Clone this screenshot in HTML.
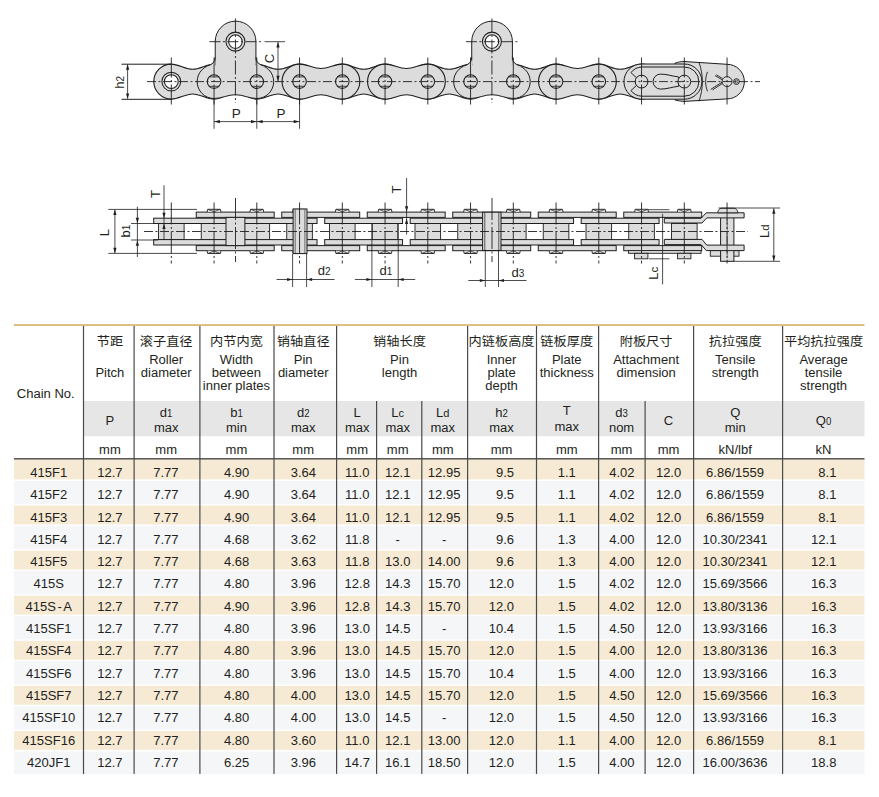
<!DOCTYPE html>
<html><head><meta charset="utf-8"><title>415 chain</title>
<style>
html,body{margin:0;padding:0;background:#fff;}
body{width:879px;height:797px;overflow:hidden;}
svg{display:block;font-family:"Liberation Sans","Noto Sans CJK SC",sans-serif;fill:#231f20;}
.cjk{font-family:"Liberation Sans","Noto Sans CJK SC",sans-serif;}
</style></head><body>
<svg width="879" height="797" viewBox="0 0 879 797">
<g id="drawing">
<path d="M675,63.2 C678,62 681,61.6 684,61.5 L727.05,64.30 A17.3,17.3 0 0 1 727.05,98.90 L684,101.4 C681,101.3 678,100.8 675,100 Z" fill="#dcdcdc" stroke="#1e1e1e" stroke-width="1.0"/>
<path d="M171.30,64.10 C178.80,64.10 185.18,69.20 192.68,69.20 C200.18,69.20 206.55,64.10 214.05,64.10 A17.5,17.5 0 0 1 214.05,99.10 C206.55,99.10 200.18,94.00 192.68,94.00 C185.18,94.00 178.80,99.10 171.30,99.10 A17.5,17.5 0 0 1 171.30,64.10 Z" fill="#dcdcdc" stroke="#1e1e1e" stroke-width="1.1"/>
<path d="M256.80,64.10 C264.30,64.10 270.68,69.20 278.18,69.20 C285.68,69.20 292.05,64.10 299.55,64.10 A17.5,17.5 0 0 1 299.55,99.10 C292.05,99.10 285.68,94.00 278.18,94.00 C270.68,94.00 264.30,99.10 256.80,99.10 A17.5,17.5 0 0 1 256.80,64.10 Z" fill="#dcdcdc" stroke="#1e1e1e" stroke-width="1.1"/>
<path d="M342.30,64.10 C349.80,64.10 356.18,69.20 363.68,69.20 C371.18,69.20 377.55,64.10 385.05,64.10 A17.5,17.5 0 0 1 385.05,99.10 C377.55,99.10 371.18,94.00 363.68,94.00 C356.18,94.00 349.80,99.10 342.30,99.10 A17.5,17.5 0 0 1 342.30,64.10 Z" fill="#dcdcdc" stroke="#1e1e1e" stroke-width="1.1"/>
<path d="M427.80,64.10 C435.30,64.10 441.68,69.20 449.18,69.20 C456.68,69.20 463.05,64.10 470.55,64.10 A17.5,17.5 0 0 1 470.55,99.10 C463.05,99.10 456.68,94.00 449.18,94.00 C441.68,94.00 435.30,99.10 427.80,99.10 A17.5,17.5 0 0 1 427.80,64.10 Z" fill="#dcdcdc" stroke="#1e1e1e" stroke-width="1.1"/>
<path d="M513.30,64.10 C520.80,64.10 527.17,69.20 534.67,69.20 C542.17,69.20 548.55,64.10 556.05,64.10 A17.5,17.5 0 0 1 556.05,99.10 C548.55,99.10 542.17,94.00 534.67,94.00 C527.17,94.00 520.80,99.10 513.30,99.10 A17.5,17.5 0 0 1 513.30,64.10 Z" fill="#dcdcdc" stroke="#1e1e1e" stroke-width="1.1"/>
<path d="M598.80,64.10 C606.30,64.10 612.67,69.20 620.17,69.20 C627.67,69.20 634.05,64.10 641.55,64.10 A17.5,17.5 0 0 1 641.55,99.10 C634.05,99.10 627.67,94.00 620.17,94.00 C612.67,94.00 606.30,99.10 598.80,99.10 A17.5,17.5 0 0 1 598.80,64.10 Z" fill="#dcdcdc" stroke="#1e1e1e" stroke-width="1.1"/>
<path d="M215.23,71.60 L215.23,41.50 A20.35,20.35 0 0 1 255.93,41.50 L255.93,71.60 Z" fill="#dcdcdc" stroke="#1e1e1e" stroke-width="1.0"/>
<path d="M214.05,64.70 C221.55,64.70 227.93,68.50 235.43,68.50 C242.93,68.50 249.30,64.70 256.80,64.70 A16.9,16.9 0 0 1 256.80,98.50 C249.30,98.50 242.93,94.70 235.43,94.70 C227.93,94.70 221.55,98.50 214.05,98.50 A16.9,16.9 0 0 1 214.05,64.70 Z" fill="#dcdcdc" stroke="#1e1e1e" stroke-width="1.0"/>
<rect x="215.83" y="60.60" width="39.50" height="10" fill="#dcdcdc"/>
<path d="M215.23,57.5 Q215.23,64.8 204.93,66.6 L215.73,70 Z" fill="#dcdcdc" stroke="none" stroke-width="1.0"/>
<path d="M215.23,57.5 Q215.23,64.8 204.93,66.6" fill="none" stroke="#1e1e1e" stroke-width="1.0"/>
<path d="M255.93,57.5 Q255.93,64.8 266.23,66.6 L255.43,70 Z" fill="#dcdcdc" stroke="none" stroke-width="1.0"/>
<path d="M255.93,57.5 Q255.93,64.8 266.23,66.6" fill="none" stroke="#1e1e1e" stroke-width="1.0"/>
<path d="M299.55,64.10 C307.05,64.10 313.43,68.50 320.93,68.50 C328.43,68.50 334.80,64.10 342.30,64.10 A17.5,17.5 0 0 1 342.30,99.10 C334.80,99.10 328.43,94.70 320.93,94.70 C313.43,94.70 307.05,99.10 299.55,99.10 A17.5,17.5 0 0 1 299.55,64.10 Z" fill="#dcdcdc" stroke="#1e1e1e" stroke-width="1.1"/>
<path d="M385.05,64.10 C392.55,64.10 398.93,68.50 406.43,68.50 C413.93,68.50 420.30,64.10 427.80,64.10 A17.5,17.5 0 0 1 427.80,99.10 C420.30,99.10 413.93,94.70 406.43,94.70 C398.93,94.70 392.55,99.10 385.05,99.10 A17.5,17.5 0 0 1 385.05,64.10 Z" fill="#dcdcdc" stroke="#1e1e1e" stroke-width="1.1"/>
<path d="M471.72,71.60 L471.72,41.50 A20.35,20.35 0 0 1 512.42,41.50 L512.42,71.60 Z" fill="#dcdcdc" stroke="#1e1e1e" stroke-width="1.0"/>
<path d="M470.55,64.70 C478.05,64.70 484.42,68.50 491.92,68.50 C499.42,68.50 505.80,64.70 513.30,64.70 A16.9,16.9 0 0 1 513.30,98.50 C505.80,98.50 499.42,94.70 491.92,94.70 C484.42,94.70 478.05,98.50 470.55,98.50 A16.9,16.9 0 0 1 470.55,64.70 Z" fill="#dcdcdc" stroke="#1e1e1e" stroke-width="1.0"/>
<rect x="472.32" y="60.60" width="39.50" height="10" fill="#dcdcdc"/>
<path d="M471.72,57.5 Q471.72,64.8 461.42,66.6 L472.22,70 Z" fill="#dcdcdc" stroke="none" stroke-width="1.0"/>
<path d="M471.72,57.5 Q471.72,64.8 461.42,66.6" fill="none" stroke="#1e1e1e" stroke-width="1.0"/>
<path d="M512.42,57.5 Q512.42,64.8 522.72,66.6 L511.92,70 Z" fill="#dcdcdc" stroke="none" stroke-width="1.0"/>
<path d="M512.42,57.5 Q512.42,64.8 522.72,66.6" fill="none" stroke="#1e1e1e" stroke-width="1.0"/>
<path d="M556.05,64.10 C563.55,64.10 569.92,68.50 577.42,68.50 C584.92,68.50 591.30,64.10 598.80,64.10 A17.5,17.5 0 0 1 598.80,99.10 C591.30,99.10 584.92,94.70 577.42,94.70 C569.92,94.70 563.55,99.10 556.05,99.10 A17.5,17.5 0 0 1 556.05,64.10 Z" fill="#dcdcdc" stroke="#1e1e1e" stroke-width="1.1"/>
<path d="M641.55,64.00 L684.30,64.00 A17.6,17.6 0 0 1 684.30,99.20 L641.55,99.20 A17.6,17.6 0 0 1 641.55,64.00 Z" fill="#dcdcdc" stroke="#1e1e1e" stroke-width="1.0"/>
<path d="M630.95,72.60 A14.6,14.6 0 0 1 641.55,67.00 L684.30,67.00 A14.6,14.6 0 0 1 684.30,96.20 L641.55,96.20 A14.6,14.6 0 0 1 630.95,90.60" fill="none" stroke="#1e1e1e" stroke-width="1.0"/>
<path d="M630.95,72.60 L636.35,77.70 M630.95,90.60 L636.35,85.50" fill="none" stroke="#1e1e1e" stroke-width="1.0"/>
<path d="M660.55,74.10 C666.55,74.10 671.55,76.00 678.80,77.00 L678.80,86.20 C671.55,87.20 666.55,89.10 660.55,89.10 A7.5,7.5 0 0 1 660.55,74.10 Z" fill="#dcdcdc" stroke="#1e1e1e" stroke-width="1.0"/>
<path d="M699,62.4 C703.5,75 703.5,88 699,101.3" fill="none" stroke="#1e1e1e" stroke-width="0.9"/>
<circle cx="171.30" cy="81.60" r="9.40" fill="#dcdcdc" stroke="#1e1e1e" stroke-width="1.05"/>
<circle cx="171.30" cy="81.60" r="6.90" fill="#ffffff" stroke="#1e1e1e" stroke-width="1.05"/>
<circle cx="214.05" cy="81.60" r="6.80" fill="#dcdcdc" stroke="#1e1e1e" stroke-width="1.05"/>
<line x1="209.15" y1="76.90" x2="218.95" y2="76.90" stroke="#1e1e1e" stroke-width="0.8"/>
<line x1="209.15" y1="86.30" x2="218.95" y2="86.30" stroke="#1e1e1e" stroke-width="0.8"/>
<circle cx="256.80" cy="81.60" r="6.80" fill="#dcdcdc" stroke="#1e1e1e" stroke-width="1.05"/>
<line x1="251.90" y1="76.90" x2="261.70" y2="76.90" stroke="#1e1e1e" stroke-width="0.8"/>
<line x1="251.90" y1="86.30" x2="261.70" y2="86.30" stroke="#1e1e1e" stroke-width="0.8"/>
<circle cx="299.55" cy="81.60" r="6.80" fill="#dcdcdc" stroke="#1e1e1e" stroke-width="1.05"/>
<line x1="294.65" y1="76.90" x2="304.45" y2="76.90" stroke="#1e1e1e" stroke-width="0.8"/>
<line x1="294.65" y1="86.30" x2="304.45" y2="86.30" stroke="#1e1e1e" stroke-width="0.8"/>
<circle cx="342.30" cy="81.60" r="6.80" fill="#dcdcdc" stroke="#1e1e1e" stroke-width="1.05"/>
<line x1="337.40" y1="76.90" x2="347.20" y2="76.90" stroke="#1e1e1e" stroke-width="0.8"/>
<line x1="337.40" y1="86.30" x2="347.20" y2="86.30" stroke="#1e1e1e" stroke-width="0.8"/>
<circle cx="385.05" cy="81.60" r="6.80" fill="#dcdcdc" stroke="#1e1e1e" stroke-width="1.05"/>
<line x1="380.15" y1="76.90" x2="389.95" y2="76.90" stroke="#1e1e1e" stroke-width="0.8"/>
<line x1="380.15" y1="86.30" x2="389.95" y2="86.30" stroke="#1e1e1e" stroke-width="0.8"/>
<circle cx="427.80" cy="81.60" r="6.80" fill="#dcdcdc" stroke="#1e1e1e" stroke-width="1.05"/>
<line x1="422.90" y1="76.90" x2="432.70" y2="76.90" stroke="#1e1e1e" stroke-width="0.8"/>
<line x1="422.90" y1="86.30" x2="432.70" y2="86.30" stroke="#1e1e1e" stroke-width="0.8"/>
<circle cx="470.55" cy="81.60" r="6.80" fill="#dcdcdc" stroke="#1e1e1e" stroke-width="1.05"/>
<line x1="465.65" y1="76.90" x2="475.45" y2="76.90" stroke="#1e1e1e" stroke-width="0.8"/>
<line x1="465.65" y1="86.30" x2="475.45" y2="86.30" stroke="#1e1e1e" stroke-width="0.8"/>
<circle cx="513.30" cy="81.60" r="6.80" fill="#dcdcdc" stroke="#1e1e1e" stroke-width="1.05"/>
<line x1="508.40" y1="76.90" x2="518.20" y2="76.90" stroke="#1e1e1e" stroke-width="0.8"/>
<line x1="508.40" y1="86.30" x2="518.20" y2="86.30" stroke="#1e1e1e" stroke-width="0.8"/>
<circle cx="556.05" cy="81.60" r="6.80" fill="#dcdcdc" stroke="#1e1e1e" stroke-width="1.05"/>
<line x1="551.15" y1="76.90" x2="560.95" y2="76.90" stroke="#1e1e1e" stroke-width="0.8"/>
<line x1="551.15" y1="86.30" x2="560.95" y2="86.30" stroke="#1e1e1e" stroke-width="0.8"/>
<circle cx="598.80" cy="81.60" r="6.80" fill="#dcdcdc" stroke="#1e1e1e" stroke-width="1.05"/>
<line x1="593.90" y1="76.90" x2="603.70" y2="76.90" stroke="#1e1e1e" stroke-width="0.8"/>
<line x1="593.90" y1="86.30" x2="603.70" y2="86.30" stroke="#1e1e1e" stroke-width="0.8"/>
<circle cx="641.55" cy="81.60" r="6.40" fill="#dcdcdc" stroke="#1e1e1e" stroke-width="1.0"/>
<circle cx="684.30" cy="81.60" r="6.40" fill="#dcdcdc" stroke="#1e1e1e" stroke-width="1.0"/>
<circle cx="727.05" cy="81.60" r="5.00" fill="#dcdcdc" stroke="#1e1e1e" stroke-width="0.9"/>
<circle cx="736.45" cy="81.60" r="2.90" fill="#dcdcdc" stroke="#1e1e1e" stroke-width="0.9"/>
<circle cx="736.45" cy="81.60" r="1.60" fill="none" stroke="#1e1e1e" stroke-width="0.7"/>
<path d="M710.7,89.4 L722.6,81.9 M715,75.6 L722.6,80 M712.5,89.9 L722.6,83.4 M716.3,74.7 L722.6,78.6" fill="none" stroke="#1e1e1e" stroke-width="0.9"/>
<path d="M707.5,71.9 C705,78 705,85 707.5,91.3" fill="none" stroke="#1e1e1e" stroke-width="0.9"/>
<circle cx="235.43" cy="41.60" r="9.50" fill="#dcdcdc" stroke="#1e1e1e" stroke-width="1.05"/>
<circle cx="235.43" cy="41.60" r="6.80" fill="#ffffff" stroke="#1e1e1e" stroke-width="1.05"/>
<circle cx="491.92" cy="41.60" r="9.50" fill="#dcdcdc" stroke="#1e1e1e" stroke-width="1.05"/>
<circle cx="491.92" cy="41.60" r="6.80" fill="#ffffff" stroke="#1e1e1e" stroke-width="1.05"/>
<line x1="147.00" y1="81.60" x2="760.00" y2="81.60" stroke="#1e1e1e" stroke-width="0.9" stroke-dasharray="9,2.5,2,2.5"/>
<line x1="171.30" y1="57.50" x2="171.30" y2="106.50" stroke="#1e1e1e" stroke-width="0.9" stroke-dasharray="20,2.5,2,2.5"/>
<line x1="214.05" y1="57.50" x2="214.05" y2="106.50" stroke="#1e1e1e" stroke-width="0.9" stroke-dasharray="20,2.5,2,2.5"/>
<line x1="256.80" y1="57.50" x2="256.80" y2="106.50" stroke="#1e1e1e" stroke-width="0.9" stroke-dasharray="20,2.5,2,2.5"/>
<line x1="299.55" y1="57.50" x2="299.55" y2="106.50" stroke="#1e1e1e" stroke-width="0.9" stroke-dasharray="20,2.5,2,2.5"/>
<line x1="342.30" y1="57.50" x2="342.30" y2="106.50" stroke="#1e1e1e" stroke-width="0.9" stroke-dasharray="20,2.5,2,2.5"/>
<line x1="385.05" y1="57.50" x2="385.05" y2="106.50" stroke="#1e1e1e" stroke-width="0.9" stroke-dasharray="20,2.5,2,2.5"/>
<line x1="427.80" y1="57.50" x2="427.80" y2="106.50" stroke="#1e1e1e" stroke-width="0.9" stroke-dasharray="20,2.5,2,2.5"/>
<line x1="470.55" y1="57.50" x2="470.55" y2="106.50" stroke="#1e1e1e" stroke-width="0.9" stroke-dasharray="20,2.5,2,2.5"/>
<line x1="513.30" y1="57.50" x2="513.30" y2="106.50" stroke="#1e1e1e" stroke-width="0.9" stroke-dasharray="20,2.5,2,2.5"/>
<line x1="556.05" y1="57.50" x2="556.05" y2="106.50" stroke="#1e1e1e" stroke-width="0.9" stroke-dasharray="20,2.5,2,2.5"/>
<line x1="598.80" y1="57.50" x2="598.80" y2="106.50" stroke="#1e1e1e" stroke-width="0.9" stroke-dasharray="20,2.5,2,2.5"/>
<line x1="641.55" y1="57.50" x2="641.55" y2="106.50" stroke="#1e1e1e" stroke-width="0.9" stroke-dasharray="20,2.5,2,2.5"/>
<line x1="684.30" y1="57.50" x2="684.30" y2="106.50" stroke="#1e1e1e" stroke-width="0.9" stroke-dasharray="20,2.5,2,2.5"/>
<line x1="727.05" y1="57.50" x2="727.05" y2="106.50" stroke="#1e1e1e" stroke-width="0.9" stroke-dasharray="20,2.5,2,2.5"/>
<line x1="235.43" y1="18.50" x2="235.43" y2="103.00" stroke="#1e1e1e" stroke-width="0.9" stroke-dasharray="14,2.5,2,2.5"/>
<line x1="209.43" y1="41.70" x2="261.43" y2="41.70" stroke="#1e1e1e" stroke-width="0.9" stroke-dasharray="11,2.5,2,2.5"/>
<line x1="491.92" y1="18.50" x2="491.92" y2="103.00" stroke="#1e1e1e" stroke-width="0.9" stroke-dasharray="14,2.5,2,2.5"/>
<line x1="465.92" y1="41.70" x2="517.92" y2="41.70" stroke="#1e1e1e" stroke-width="0.9" stroke-dasharray="11,2.5,2,2.5"/>
<line x1="121.50" y1="64.20" x2="171.00" y2="64.20" stroke="#1e1e1e" stroke-width="1.0"/>
<line x1="121.50" y1="99.30" x2="171.00" y2="99.30" stroke="#1e1e1e" stroke-width="1.0"/>
<line x1="127.60" y1="64.60" x2="127.60" y2="98.60" stroke="#1e1e1e" stroke-width="0.8"/>
<path d="M127.60,64.30 L129.20,69.80 L126.00,69.80 Z" fill="#1e1e1e"/>
<path d="M127.60,98.90 L126.00,93.40 L129.20,93.40 Z" fill="#1e1e1e"/>
<text x="124.00" y="82.30" font-size="13" text-anchor="middle" fill="#231f20" transform="rotate(-90 124.00 82.30)">h<tspan font-size="10">2</tspan></text>
<line x1="214.05" y1="100.00" x2="214.05" y2="128.80" stroke="#1e1e1e" stroke-width="0.8"/>
<line x1="256.80" y1="100.00" x2="256.80" y2="128.80" stroke="#1e1e1e" stroke-width="0.8"/>
<line x1="299.55" y1="100.00" x2="299.55" y2="128.80" stroke="#1e1e1e" stroke-width="0.8"/>
<line x1="214.05" y1="121.60" x2="299.55" y2="121.60" stroke="#1e1e1e" stroke-width="0.8"/>
<path d="M214.35,121.60 L219.85,120.00 L219.85,123.20 Z" fill="#1e1e1e"/>
<path d="M256.50,121.60 L251.00,123.20 L251.00,120.00 Z" fill="#1e1e1e"/>
<path d="M257.10,121.60 L262.60,120.00 L262.60,123.20 Z" fill="#1e1e1e"/>
<path d="M299.25,121.60 L293.75,123.20 L293.75,120.00 Z" fill="#1e1e1e"/>
<text x="236.33" y="117.80" font-size="13.5" text-anchor="middle" fill="#231f20">P</text>
<text x="280.98" y="117.80" font-size="13.5" text-anchor="middle" fill="#231f20">P</text>
<line x1="264.50" y1="41.70" x2="285.00" y2="41.70" stroke="#1e1e1e" stroke-width="0.8"/>
<line x1="278.00" y1="42.00" x2="278.00" y2="81.30" stroke="#1e1e1e" stroke-width="0.8"/>
<path d="M278.00,41.90 L279.60,47.40 L276.40,47.40 Z" fill="#1e1e1e"/>
<path d="M278.00,81.30 L276.40,75.80 L279.60,75.80 Z" fill="#1e1e1e"/>
<text x="274.30" y="58.60" font-size="13" text-anchor="middle" fill="#231f20" transform="rotate(-90 274.30 58.60)">C</text>
<rect x="158.50" y="223.50" width="25.60" height="16.10" fill="#dcdcdc" stroke="#1e1e1e" stroke-width="0.9"/>
<rect x="201.25" y="223.50" width="25.60" height="16.10" fill="#dcdcdc" stroke="#1e1e1e" stroke-width="0.9"/>
<rect x="244.00" y="223.50" width="25.60" height="16.10" fill="#dcdcdc" stroke="#1e1e1e" stroke-width="0.9"/>
<rect x="286.75" y="223.50" width="25.60" height="16.10" fill="#dcdcdc" stroke="#1e1e1e" stroke-width="0.9"/>
<rect x="329.50" y="223.50" width="25.60" height="16.10" fill="#dcdcdc" stroke="#1e1e1e" stroke-width="0.9"/>
<rect x="372.25" y="223.50" width="25.60" height="16.10" fill="#dcdcdc" stroke="#1e1e1e" stroke-width="0.9"/>
<rect x="415.00" y="223.50" width="25.60" height="16.10" fill="#dcdcdc" stroke="#1e1e1e" stroke-width="0.9"/>
<rect x="457.75" y="223.50" width="25.60" height="16.10" fill="#dcdcdc" stroke="#1e1e1e" stroke-width="0.9"/>
<rect x="500.50" y="223.50" width="25.60" height="16.10" fill="#dcdcdc" stroke="#1e1e1e" stroke-width="0.9"/>
<rect x="543.25" y="223.50" width="25.60" height="16.10" fill="#dcdcdc" stroke="#1e1e1e" stroke-width="0.9"/>
<rect x="586.00" y="223.50" width="25.60" height="16.10" fill="#dcdcdc" stroke="#1e1e1e" stroke-width="0.9"/>
<rect x="628.75" y="223.50" width="25.60" height="16.10" fill="#dcdcdc" stroke="#1e1e1e" stroke-width="0.9"/>
<rect x="671.50" y="223.50" width="25.60" height="16.10" fill="#dcdcdc" stroke="#1e1e1e" stroke-width="0.9"/>
<rect x="153.70" y="218.20" width="77.85" height="5.30" fill="#dcdcdc" stroke="#1e1e1e" stroke-width="1.0"/>
<rect x="153.70" y="239.60" width="77.85" height="5.40" fill="#dcdcdc" stroke="#1e1e1e" stroke-width="1.0"/>
<rect x="239.20" y="218.20" width="77.85" height="5.30" fill="#dcdcdc" stroke="#1e1e1e" stroke-width="1.0"/>
<rect x="239.20" y="239.60" width="77.85" height="5.40" fill="#dcdcdc" stroke="#1e1e1e" stroke-width="1.0"/>
<rect x="324.70" y="218.20" width="77.85" height="5.30" fill="#dcdcdc" stroke="#1e1e1e" stroke-width="1.0"/>
<rect x="324.70" y="239.60" width="77.85" height="5.40" fill="#dcdcdc" stroke="#1e1e1e" stroke-width="1.0"/>
<rect x="410.20" y="218.20" width="77.85" height="5.30" fill="#dcdcdc" stroke="#1e1e1e" stroke-width="1.0"/>
<rect x="410.20" y="239.60" width="77.85" height="5.40" fill="#dcdcdc" stroke="#1e1e1e" stroke-width="1.0"/>
<rect x="495.70" y="218.20" width="77.85" height="5.30" fill="#dcdcdc" stroke="#1e1e1e" stroke-width="1.0"/>
<rect x="495.70" y="239.60" width="77.85" height="5.40" fill="#dcdcdc" stroke="#1e1e1e" stroke-width="1.0"/>
<rect x="581.20" y="218.20" width="77.85" height="5.30" fill="#dcdcdc" stroke="#1e1e1e" stroke-width="1.0"/>
<rect x="581.20" y="239.60" width="77.85" height="5.40" fill="#dcdcdc" stroke="#1e1e1e" stroke-width="1.0"/>
<rect x="710.30" y="250.60" width="28.70" height="5.60" fill="#dcdcdc" stroke="#1e1e1e" stroke-width="0.9"/>
<rect x="720.60" y="208.80" width="13.30" height="52.50" fill="#dcdcdc" stroke="#1e1e1e" stroke-width="1.0"/>
<line x1="727.20" y1="209.00" x2="727.20" y2="261.00" stroke="#1e1e1e" stroke-width="0.6" stroke-dasharray="8,2,1.5,2"/>
<path d="M664.3,218.3 L701.1,218.3 L706.3,212.8 L744.1,212.8 L744.1,217.9 L706.8,217.9 L702.0,223.0 L664.3,223.0 Z" fill="#dcdcdc" stroke="#1e1e1e" stroke-width="1.0"/>
<path d="M664.3,239.4 L702.0,239.4 L706.8,245.1 L744.1,245.1 L744.1,250.6 L706.3,250.6 L701.1,244.6 L664.3,244.6 Z" fill="#dcdcdc" stroke="#1e1e1e" stroke-width="1.0"/>
<rect x="196.25" y="212.10" width="77.95" height="5.30" fill="#dcdcdc" stroke="#1e1e1e" stroke-width="1.0"/>
<rect x="196.25" y="245.60" width="77.95" height="5.10" fill="#dcdcdc" stroke="#1e1e1e" stroke-width="1.0"/>
<path d="M207.15,212.1 L207.65,209.3 L220.45,209.3 L220.95,212.1" fill="#dcdcdc" stroke="#1e1e1e" stroke-width="0.9"/>
<path d="M207.15,250.7 L207.65,253.5 L220.45,253.5 L220.95,250.7" fill="#dcdcdc" stroke="#1e1e1e" stroke-width="0.9"/>
<path d="M208.55,209.5 L214.05,211.9 L219.55,209.5 M208.55,253.3 L214.05,250.9 L219.55,253.3" fill="none" stroke="#1e1e1e" stroke-width="0.7"/>
<path d="M249.90,212.1 L250.40,209.3 L263.20,209.3 L263.70,212.1" fill="#dcdcdc" stroke="#1e1e1e" stroke-width="0.9"/>
<path d="M249.90,250.7 L250.40,253.5 L263.20,253.5 L263.70,250.7" fill="#dcdcdc" stroke="#1e1e1e" stroke-width="0.9"/>
<path d="M251.30,209.5 L256.80,211.9 L262.30,209.5 M251.30,253.3 L256.80,250.9 L262.30,253.3" fill="none" stroke="#1e1e1e" stroke-width="0.7"/>
<rect x="281.75" y="212.10" width="77.95" height="5.30" fill="#dcdcdc" stroke="#1e1e1e" stroke-width="1.0"/>
<rect x="281.75" y="245.60" width="77.95" height="5.10" fill="#dcdcdc" stroke="#1e1e1e" stroke-width="1.0"/>
<path d="M292.65,212.1 L293.15,209.3 L305.95,209.3 L306.45,212.1" fill="#dcdcdc" stroke="#1e1e1e" stroke-width="0.9"/>
<path d="M292.65,250.7 L293.15,253.5 L305.95,253.5 L306.45,250.7" fill="#dcdcdc" stroke="#1e1e1e" stroke-width="0.9"/>
<path d="M294.05,209.5 L299.55,211.9 L305.05,209.5 M294.05,253.3 L299.55,250.9 L305.05,253.3" fill="none" stroke="#1e1e1e" stroke-width="0.7"/>
<path d="M335.40,212.1 L335.90,209.3 L348.70,209.3 L349.20,212.1" fill="#dcdcdc" stroke="#1e1e1e" stroke-width="0.9"/>
<path d="M335.40,250.7 L335.90,253.5 L348.70,253.5 L349.20,250.7" fill="#dcdcdc" stroke="#1e1e1e" stroke-width="0.9"/>
<path d="M336.80,209.5 L342.30,211.9 L347.80,209.5 M336.80,253.3 L342.30,250.9 L347.80,253.3" fill="none" stroke="#1e1e1e" stroke-width="0.7"/>
<rect x="367.25" y="212.10" width="77.95" height="5.30" fill="#dcdcdc" stroke="#1e1e1e" stroke-width="1.0"/>
<rect x="367.25" y="245.60" width="77.95" height="5.10" fill="#dcdcdc" stroke="#1e1e1e" stroke-width="1.0"/>
<path d="M378.15,212.1 L378.65,209.3 L391.45,209.3 L391.95,212.1" fill="#dcdcdc" stroke="#1e1e1e" stroke-width="0.9"/>
<path d="M378.15,250.7 L378.65,253.5 L391.45,253.5 L391.95,250.7" fill="#dcdcdc" stroke="#1e1e1e" stroke-width="0.9"/>
<path d="M379.55,209.5 L385.05,211.9 L390.55,209.5 M379.55,253.3 L385.05,250.9 L390.55,253.3" fill="none" stroke="#1e1e1e" stroke-width="0.7"/>
<path d="M420.90,212.1 L421.40,209.3 L434.20,209.3 L434.70,212.1" fill="#dcdcdc" stroke="#1e1e1e" stroke-width="0.9"/>
<path d="M420.90,250.7 L421.40,253.5 L434.20,253.5 L434.70,250.7" fill="#dcdcdc" stroke="#1e1e1e" stroke-width="0.9"/>
<path d="M422.30,209.5 L427.80,211.9 L433.30,209.5 M422.30,253.3 L427.80,250.9 L433.30,253.3" fill="none" stroke="#1e1e1e" stroke-width="0.7"/>
<rect x="452.75" y="212.10" width="77.95" height="5.30" fill="#dcdcdc" stroke="#1e1e1e" stroke-width="1.0"/>
<rect x="452.75" y="245.60" width="77.95" height="5.10" fill="#dcdcdc" stroke="#1e1e1e" stroke-width="1.0"/>
<path d="M463.65,212.1 L464.15,209.3 L476.95,209.3 L477.45,212.1" fill="#dcdcdc" stroke="#1e1e1e" stroke-width="0.9"/>
<path d="M463.65,250.7 L464.15,253.5 L476.95,253.5 L477.45,250.7" fill="#dcdcdc" stroke="#1e1e1e" stroke-width="0.9"/>
<path d="M465.05,209.5 L470.55,211.9 L476.05,209.5 M465.05,253.3 L470.55,250.9 L476.05,253.3" fill="none" stroke="#1e1e1e" stroke-width="0.7"/>
<path d="M506.40,212.1 L506.90,209.3 L519.70,209.3 L520.20,212.1" fill="#dcdcdc" stroke="#1e1e1e" stroke-width="0.9"/>
<path d="M506.40,250.7 L506.90,253.5 L519.70,253.5 L520.20,250.7" fill="#dcdcdc" stroke="#1e1e1e" stroke-width="0.9"/>
<path d="M507.80,209.5 L513.30,211.9 L518.80,209.5 M507.80,253.3 L513.30,250.9 L518.80,253.3" fill="none" stroke="#1e1e1e" stroke-width="0.7"/>
<rect x="538.25" y="212.10" width="77.95" height="5.30" fill="#dcdcdc" stroke="#1e1e1e" stroke-width="1.0"/>
<rect x="538.25" y="245.60" width="77.95" height="5.10" fill="#dcdcdc" stroke="#1e1e1e" stroke-width="1.0"/>
<path d="M549.15,212.1 L549.65,209.3 L562.45,209.3 L562.95,212.1" fill="#dcdcdc" stroke="#1e1e1e" stroke-width="0.9"/>
<path d="M549.15,250.7 L549.65,253.5 L562.45,253.5 L562.95,250.7" fill="#dcdcdc" stroke="#1e1e1e" stroke-width="0.9"/>
<path d="M550.55,209.5 L556.05,211.9 L561.55,209.5 M550.55,253.3 L556.05,250.9 L561.55,253.3" fill="none" stroke="#1e1e1e" stroke-width="0.7"/>
<path d="M591.90,212.1 L592.40,209.3 L605.20,209.3 L605.70,212.1" fill="#dcdcdc" stroke="#1e1e1e" stroke-width="0.9"/>
<path d="M591.90,250.7 L592.40,253.5 L605.20,253.5 L605.70,250.7" fill="#dcdcdc" stroke="#1e1e1e" stroke-width="0.9"/>
<path d="M593.30,209.5 L598.80,211.9 L604.30,209.5 M593.30,253.3 L598.80,250.9 L604.30,253.3" fill="none" stroke="#1e1e1e" stroke-width="0.7"/>
<rect x="623.75" y="212.10" width="77.95" height="5.30" fill="#dcdcdc" stroke="#1e1e1e" stroke-width="1.0"/>
<rect x="623.75" y="245.60" width="77.95" height="5.10" fill="#dcdcdc" stroke="#1e1e1e" stroke-width="1.0"/>
<path d="M634.65,212.1 L635.15,209.3 L647.95,209.3 L648.45,212.1" fill="#dcdcdc" stroke="#1e1e1e" stroke-width="0.9"/>
<path d="M634.65,250.7 L635.15,253.5 L647.95,253.5 L648.45,250.7" fill="#dcdcdc" stroke="#1e1e1e" stroke-width="0.9"/>
<path d="M636.05,209.5 L641.55,211.9 L647.05,209.5 M636.05,253.3 L641.55,250.9 L647.05,253.3" fill="none" stroke="#1e1e1e" stroke-width="0.7"/>
<path d="M677.40,212.1 L677.90,209.3 L690.70,209.3 L691.20,212.1" fill="#dcdcdc" stroke="#1e1e1e" stroke-width="0.9"/>
<path d="M677.40,250.7 L677.90,253.5 L690.70,253.5 L691.20,250.7" fill="#dcdcdc" stroke="#1e1e1e" stroke-width="0.9"/>
<path d="M678.80,209.5 L684.30,211.9 L689.80,209.5 M678.80,253.3 L684.30,250.9 L689.80,253.3" fill="none" stroke="#1e1e1e" stroke-width="0.7"/>
<rect x="628.40" y="250.60" width="72.60" height="2.70" fill="#dcdcdc" stroke="#1e1e1e" stroke-width="0.9"/>
<rect x="634.60" y="253.30" width="13.30" height="5.50" fill="#dcdcdc" stroke="#1e1e1e" stroke-width="0.9"/>
<rect x="677.60" y="253.30" width="13.30" height="5.50" fill="#dcdcdc" stroke="#1e1e1e" stroke-width="0.9"/>
<path d="M717.6,212.8 Q718.5,208.2 722,208.2 L733.5,208.2 Q737.2,208.2 738,212.8 Z" fill="#dcdcdc" stroke="#1e1e1e" stroke-width="0.9"/>
<rect x="226.00" y="217.40" width="18.90" height="28.20" fill="#dcdcdc" stroke="#1e1e1e" stroke-width="1.0"/>
<rect x="293.10" y="209.00" width="13.90" height="44.60" fill="#dcdcdc" stroke="#1e1e1e" stroke-width="1.0"/>
<line x1="295.20" y1="209.50" x2="295.20" y2="253.20" stroke="#1e1e1e" stroke-width="0.6"/>
<line x1="304.90" y1="209.50" x2="304.90" y2="253.20" stroke="#1e1e1e" stroke-width="0.6"/>
<rect x="482.60" y="212.20" width="18.40" height="38.30" fill="#dcdcdc" stroke="#1e1e1e" stroke-width="1.0"/>
<line x1="484.80" y1="212.50" x2="484.80" y2="250.20" stroke="#1e1e1e" stroke-width="0.7"/>
<line x1="498.80" y1="212.50" x2="498.80" y2="250.20" stroke="#1e1e1e" stroke-width="0.7"/>
<line x1="144.00" y1="231.50" x2="748.00" y2="231.50" stroke="#1e1e1e" stroke-width="0.9" stroke-dasharray="9,2.5,2,2.5"/>
<line x1="171.30" y1="202.50" x2="171.30" y2="263.50" stroke="#1e1e1e" stroke-width="0.9" stroke-dasharray="22,2.5,2,2.5"/>
<line x1="214.05" y1="202.50" x2="214.05" y2="263.50" stroke="#1e1e1e" stroke-width="0.9" stroke-dasharray="22,2.5,2,2.5"/>
<line x1="256.80" y1="202.50" x2="256.80" y2="263.50" stroke="#1e1e1e" stroke-width="0.9" stroke-dasharray="22,2.5,2,2.5"/>
<line x1="299.55" y1="202.50" x2="299.55" y2="263.50" stroke="#1e1e1e" stroke-width="0.9" stroke-dasharray="22,2.5,2,2.5"/>
<line x1="342.30" y1="202.50" x2="342.30" y2="263.50" stroke="#1e1e1e" stroke-width="0.9" stroke-dasharray="22,2.5,2,2.5"/>
<line x1="385.05" y1="202.50" x2="385.05" y2="263.50" stroke="#1e1e1e" stroke-width="0.9" stroke-dasharray="22,2.5,2,2.5"/>
<line x1="427.80" y1="202.50" x2="427.80" y2="263.50" stroke="#1e1e1e" stroke-width="0.9" stroke-dasharray="22,2.5,2,2.5"/>
<line x1="470.55" y1="202.50" x2="470.55" y2="263.50" stroke="#1e1e1e" stroke-width="0.9" stroke-dasharray="22,2.5,2,2.5"/>
<line x1="513.30" y1="202.50" x2="513.30" y2="263.50" stroke="#1e1e1e" stroke-width="0.9" stroke-dasharray="22,2.5,2,2.5"/>
<line x1="556.05" y1="202.50" x2="556.05" y2="263.50" stroke="#1e1e1e" stroke-width="0.9" stroke-dasharray="22,2.5,2,2.5"/>
<line x1="598.80" y1="202.50" x2="598.80" y2="263.50" stroke="#1e1e1e" stroke-width="0.9" stroke-dasharray="22,2.5,2,2.5"/>
<line x1="641.55" y1="202.50" x2="641.55" y2="263.50" stroke="#1e1e1e" stroke-width="0.9" stroke-dasharray="22,2.5,2,2.5"/>
<line x1="684.30" y1="202.50" x2="684.30" y2="263.50" stroke="#1e1e1e" stroke-width="0.9" stroke-dasharray="22,2.5,2,2.5"/>
<line x1="727.05" y1="202.50" x2="727.05" y2="263.50" stroke="#1e1e1e" stroke-width="0.9" stroke-dasharray="22,2.5,2,2.5"/>
<line x1="235.50" y1="198.00" x2="235.50" y2="262.00" stroke="#1e1e1e" stroke-width="0.9" stroke-dasharray="22,2.5,2,2.5"/>
<line x1="492.00" y1="198.00" x2="492.00" y2="262.00" stroke="#1e1e1e" stroke-width="0.9" stroke-dasharray="22,2.5,2,2.5"/>
<line x1="108.30" y1="209.40" x2="197.00" y2="209.40" stroke="#1e1e1e" stroke-width="0.8"/>
<line x1="108.30" y1="253.40" x2="197.00" y2="253.40" stroke="#1e1e1e" stroke-width="0.8"/>
<line x1="114.90" y1="209.80" x2="114.90" y2="253.00" stroke="#1e1e1e" stroke-width="0.8"/>
<path d="M114.90,209.60 L116.50,215.10 L113.30,215.10 Z" fill="#1e1e1e"/>
<path d="M114.90,253.20 L113.30,247.70 L116.50,247.70 Z" fill="#1e1e1e"/>
<text x="108.70" y="232.60" font-size="13" text-anchor="middle" fill="#231f20" transform="rotate(-90 108.70 232.60)">L</text>
<line x1="131.00" y1="223.50" x2="158.00" y2="223.50" stroke="#1e1e1e" stroke-width="0.8"/>
<line x1="131.00" y1="240.00" x2="158.00" y2="240.00" stroke="#1e1e1e" stroke-width="0.8"/>
<line x1="137.40" y1="206.70" x2="137.40" y2="257.00" stroke="#1e1e1e" stroke-width="0.8"/>
<path d="M137.40,223.30 L135.80,217.80 L139.00,217.80 Z" fill="#1e1e1e"/>
<path d="M137.40,240.20 L139.00,245.70 L135.80,245.70 Z" fill="#1e1e1e"/>
<text x="130.40" y="231.10" font-size="13" text-anchor="middle" fill="#231f20" transform="rotate(-90 130.40 231.10)">b<tspan font-size="10">1</tspan></text>
<line x1="164.00" y1="185.20" x2="164.00" y2="240.00" stroke="#1e1e1e" stroke-width="0.8"/>
<path d="M164.00,218.20 L162.40,212.70 L165.60,212.70 Z" fill="#1e1e1e"/>
<path d="M164.00,223.60 L165.60,229.10 L162.40,229.10 Z" fill="#1e1e1e"/>
<text x="160.20" y="194.00" font-size="13" text-anchor="middle" fill="#231f20" transform="rotate(-90 160.20 194.00)">T</text>
<line x1="406.60" y1="178.00" x2="406.60" y2="234.60" stroke="#1e1e1e" stroke-width="0.8"/>
<path d="M406.60,211.80 L405.00,206.30 L408.20,206.30 Z" fill="#1e1e1e"/>
<path d="M406.60,218.60 L408.20,224.10 L405.00,224.10 Z" fill="#1e1e1e"/>
<text x="400.60" y="189.60" font-size="13" text-anchor="middle" fill="#231f20" transform="rotate(-90 400.60 189.60)">T</text>
<line x1="292.60" y1="254.00" x2="292.60" y2="287.00" stroke="#1e1e1e" stroke-width="0.8"/>
<line x1="306.60" y1="254.00" x2="306.60" y2="287.00" stroke="#1e1e1e" stroke-width="0.8"/>
<line x1="276.60" y1="279.50" x2="292.60" y2="279.50" stroke="#1e1e1e" stroke-width="0.8"/>
<path d="M292.60,279.50 L287.10,281.10 L287.10,277.90 Z" fill="#1e1e1e"/>
<line x1="306.60" y1="279.50" x2="334.60" y2="279.50" stroke="#1e1e1e" stroke-width="0.8"/>
<path d="M306.60,279.50 L312.10,277.90 L312.10,281.10 Z" fill="#1e1e1e"/>
<line x1="292.60" y1="279.50" x2="306.60" y2="279.50" stroke="#1e1e1e" stroke-width="0.8"/>
<text x="324.20" y="275.00" font-size="13" text-anchor="middle" fill="#231f20">d<tspan font-size="10">2</tspan></text>
<line x1="371.90" y1="223.50" x2="371.90" y2="287.00" stroke="#1e1e1e" stroke-width="0.8"/>
<line x1="398.20" y1="223.50" x2="398.20" y2="287.00" stroke="#1e1e1e" stroke-width="0.8"/>
<line x1="354.90" y1="279.50" x2="371.90" y2="279.50" stroke="#1e1e1e" stroke-width="0.8"/>
<path d="M371.90,279.50 L366.40,281.10 L366.40,277.90 Z" fill="#1e1e1e"/>
<line x1="398.20" y1="279.50" x2="415.20" y2="279.50" stroke="#1e1e1e" stroke-width="0.8"/>
<path d="M398.20,279.50 L403.70,277.90 L403.70,281.10 Z" fill="#1e1e1e"/>
<line x1="371.90" y1="279.50" x2="398.20" y2="279.50" stroke="#1e1e1e" stroke-width="0.8"/>
<text x="385.90" y="275.00" font-size="13" text-anchor="middle" fill="#231f20">d<tspan font-size="10">1</tspan></text>
<line x1="485.30" y1="250.30" x2="485.30" y2="287.00" stroke="#1e1e1e" stroke-width="0.8"/>
<line x1="498.50" y1="250.30" x2="498.50" y2="287.00" stroke="#1e1e1e" stroke-width="0.8"/>
<line x1="468.30" y1="280.50" x2="485.30" y2="280.50" stroke="#1e1e1e" stroke-width="0.8"/>
<path d="M485.30,280.50 L479.80,282.10 L479.80,278.90 Z" fill="#1e1e1e"/>
<line x1="498.50" y1="280.50" x2="526.50" y2="280.50" stroke="#1e1e1e" stroke-width="0.8"/>
<path d="M498.50,280.50 L504.00,278.90 L504.00,282.10 Z" fill="#1e1e1e"/>
<line x1="485.30" y1="280.50" x2="498.50" y2="280.50" stroke="#1e1e1e" stroke-width="0.8"/>
<text x="518.00" y="276.70" font-size="13" text-anchor="middle" fill="#231f20">d<tspan font-size="10">3</tspan></text>
<line x1="662.60" y1="213.80" x2="662.60" y2="284.40" stroke="#1e1e1e" stroke-width="0.8"/>
<line x1="649.00" y1="258.80" x2="669.40" y2="258.80" stroke="#1e1e1e" stroke-width="0.8"/>
<line x1="648.00" y1="209.70" x2="669.40" y2="209.70" stroke="#1e1e1e" stroke-width="0.8"/>
<text x="657.80" y="273.20" font-size="13" text-anchor="middle" fill="#231f20" transform="rotate(-90 657.80 273.20)">L<tspan font-size="11.5">c</tspan></text>
<line x1="718.50" y1="208.00" x2="780.00" y2="208.00" stroke="#1e1e1e" stroke-width="0.8"/>
<line x1="733.90" y1="261.30" x2="780.00" y2="261.30" stroke="#1e1e1e" stroke-width="0.8"/>
<line x1="773.80" y1="208.40" x2="773.80" y2="261.00" stroke="#1e1e1e" stroke-width="0.8"/>
<path d="M773.80,208.20 L775.40,213.70 L772.20,213.70 Z" fill="#1e1e1e"/>
<path d="M773.80,261.10 L772.20,255.60 L775.40,255.60 Z" fill="#1e1e1e"/>
<text x="769.30" y="231.20" font-size="13" text-anchor="middle" fill="#231f20" transform="rotate(-90 769.30 231.20)">L<tspan font-size="11.5">d</tspan></text>
</g>
<g id="table">
<rect x="83.5" y="401" width="781.0" height="35.2" fill="#e6e6e6"/>
<rect x="14" y="459.60" width="850.5" height="19.80" fill="#f6ead5"/>
<rect x="14" y="505.50" width="850.5" height="18.90" fill="#f6ead5"/>
<rect x="14" y="550.60" width="850.5" height="18.90" fill="#f6ead5"/>
<rect x="14" y="595.70" width="850.5" height="18.90" fill="#f6ead5"/>
<rect x="14" y="640.80" width="850.5" height="18.90" fill="#f6ead5"/>
<rect x="14" y="685.90" width="850.5" height="18.90" fill="#f6ead5"/>
<rect x="14" y="731.00" width="850.5" height="18.90" fill="#f6ead5"/>
<rect x="14" y="481.00" width="850.5" height="23.10" fill="#f5f6f8"/>
<rect x="14" y="526.00" width="850.5" height="23.20" fill="#f5f6f8"/>
<rect x="14" y="571.10" width="850.5" height="23.20" fill="#f5f6f8"/>
<rect x="14" y="616.20" width="850.5" height="23.20" fill="#f5f6f8"/>
<rect x="14" y="661.30" width="850.5" height="23.20" fill="#f5f6f8"/>
<rect x="14" y="706.40" width="850.5" height="23.20" fill="#f5f6f8"/>
<rect x="14" y="751.50" width="850.5" height="22.40" fill="#f5f6f8"/>
<rect x="14" y="324.2" width="850.5" height="1.7" fill="#d6b46c"/>
<rect x="14" y="458" width="850.5" height="1.6" fill="#5e5a56"/>
<rect x="82.9" y="326" width="1.2" height="447.9" fill="#4a4a4a"/>
<rect x="133.5" y="326" width="1.2" height="447.9" fill="#4a4a4a"/>
<rect x="199.3" y="326" width="1.2" height="447.9" fill="#4a4a4a"/>
<rect x="273.4" y="326" width="1.2" height="447.9" fill="#4a4a4a"/>
<rect x="336.0" y="326" width="1.2" height="447.9" fill="#4a4a4a"/>
<rect x="376.0" y="401" width="1.2" height="372.9" fill="#4a4a4a"/>
<rect x="421.2" y="401" width="1.2" height="372.9" fill="#4a4a4a"/>
<rect x="467.0" y="326" width="1.2" height="447.9" fill="#4a4a4a"/>
<rect x="535.9" y="326" width="1.2" height="447.9" fill="#4a4a4a"/>
<rect x="598.0" y="326" width="1.2" height="447.9" fill="#4a4a4a"/>
<rect x="644.5" y="401" width="1.2" height="372.9" fill="#4a4a4a"/>
<rect x="693.0" y="326" width="1.2" height="447.9" fill="#4a4a4a"/>
<rect x="782.0" y="326" width="1.2" height="447.9" fill="#4a4a4a"/>
<text transform="translate(48.75 476.90) scale(0.965 1)" font-size="13.5" text-anchor="middle">415F1</text>
<text transform="translate(109.88 476.90) scale(0.965 1)" font-size="13.5" text-anchor="middle">12.7</text>
<text transform="translate(165.88 476.90) scale(0.965 1)" font-size="13.5" text-anchor="middle">7.77</text>
<text transform="translate(236.55 476.90) scale(0.965 1)" font-size="13.5" text-anchor="middle">4.90</text>
<text transform="translate(303.30 476.90) scale(0.965 1)" font-size="13.5" text-anchor="middle">3.64</text>
<text transform="translate(357.20 476.90) scale(0.965 1)" font-size="13.5" text-anchor="middle">11.0</text>
<text transform="translate(397.70 476.90) scale(0.965 1)" font-size="13.5" text-anchor="middle">12.1</text>
<text transform="translate(444.10 476.90) scale(0.965 1)" font-size="13.5" text-anchor="middle">12.95</text>
<text transform="translate(514.00 476.90) scale(0.965 1)" font-size="13.5" text-anchor="end">9.5</text>
<text transform="translate(566.75 476.90) scale(0.965 1)" font-size="13.5" text-anchor="middle">1.1</text>
<text transform="translate(621.85 476.90) scale(0.965 1)" font-size="13.5" text-anchor="middle">4.02</text>
<text transform="translate(668.55 476.90) scale(0.965 1)" font-size="13.5" text-anchor="middle">12.0</text>
<text transform="translate(735.00 476.90) scale(0.965 1)" font-size="13.5" text-anchor="middle">6.86/1559</text>
<text transform="translate(836.40 476.90) scale(0.965 1)" font-size="13.5" text-anchor="end">8.1</text>
<text transform="translate(48.75 499.21) scale(0.965 1)" font-size="13.5" text-anchor="middle">415F2</text>
<text transform="translate(109.88 499.21) scale(0.965 1)" font-size="13.5" text-anchor="middle">12.7</text>
<text transform="translate(165.88 499.21) scale(0.965 1)" font-size="13.5" text-anchor="middle">7.77</text>
<text transform="translate(236.55 499.21) scale(0.965 1)" font-size="13.5" text-anchor="middle">4.90</text>
<text transform="translate(303.30 499.21) scale(0.965 1)" font-size="13.5" text-anchor="middle">3.64</text>
<text transform="translate(357.20 499.21) scale(0.965 1)" font-size="13.5" text-anchor="middle">11.0</text>
<text transform="translate(397.70 499.21) scale(0.965 1)" font-size="13.5" text-anchor="middle">12.1</text>
<text transform="translate(444.10 499.21) scale(0.965 1)" font-size="13.5" text-anchor="middle">12.95</text>
<text transform="translate(514.00 499.21) scale(0.965 1)" font-size="13.5" text-anchor="end">9.5</text>
<text transform="translate(566.75 499.21) scale(0.965 1)" font-size="13.5" text-anchor="middle">1.1</text>
<text transform="translate(621.85 499.21) scale(0.965 1)" font-size="13.5" text-anchor="middle">4.02</text>
<text transform="translate(668.55 499.21) scale(0.965 1)" font-size="13.5" text-anchor="middle">12.0</text>
<text transform="translate(735.00 499.21) scale(0.965 1)" font-size="13.5" text-anchor="middle">6.86/1559</text>
<text transform="translate(836.40 499.21) scale(0.965 1)" font-size="13.5" text-anchor="end">8.1</text>
<text transform="translate(48.75 521.53) scale(0.965 1)" font-size="13.5" text-anchor="middle">415F3</text>
<text transform="translate(109.88 521.53) scale(0.965 1)" font-size="13.5" text-anchor="middle">12.7</text>
<text transform="translate(165.88 521.53) scale(0.965 1)" font-size="13.5" text-anchor="middle">7.77</text>
<text transform="translate(236.55 521.53) scale(0.965 1)" font-size="13.5" text-anchor="middle">4.90</text>
<text transform="translate(303.30 521.53) scale(0.965 1)" font-size="13.5" text-anchor="middle">3.64</text>
<text transform="translate(357.20 521.53) scale(0.965 1)" font-size="13.5" text-anchor="middle">11.0</text>
<text transform="translate(397.70 521.53) scale(0.965 1)" font-size="13.5" text-anchor="middle">12.1</text>
<text transform="translate(444.10 521.53) scale(0.965 1)" font-size="13.5" text-anchor="middle">12.95</text>
<text transform="translate(514.00 521.53) scale(0.965 1)" font-size="13.5" text-anchor="end">9.5</text>
<text transform="translate(566.75 521.53) scale(0.965 1)" font-size="13.5" text-anchor="middle">1.1</text>
<text transform="translate(621.85 521.53) scale(0.965 1)" font-size="13.5" text-anchor="middle">4.02</text>
<text transform="translate(668.55 521.53) scale(0.965 1)" font-size="13.5" text-anchor="middle">12.0</text>
<text transform="translate(735.00 521.53) scale(0.965 1)" font-size="13.5" text-anchor="middle">6.86/1559</text>
<text transform="translate(836.40 521.53) scale(0.965 1)" font-size="13.5" text-anchor="end">8.1</text>
<text transform="translate(48.75 543.85) scale(0.965 1)" font-size="13.5" text-anchor="middle">415F4</text>
<text transform="translate(109.88 543.85) scale(0.965 1)" font-size="13.5" text-anchor="middle">12.7</text>
<text transform="translate(165.88 543.85) scale(0.965 1)" font-size="13.5" text-anchor="middle">7.77</text>
<text transform="translate(236.55 543.85) scale(0.965 1)" font-size="13.5" text-anchor="middle">4.68</text>
<text transform="translate(303.30 543.85) scale(0.965 1)" font-size="13.5" text-anchor="middle">3.62</text>
<text transform="translate(357.20 543.85) scale(0.965 1)" font-size="13.5" text-anchor="middle">11.8</text>
<text transform="translate(397.70 543.85) scale(0.965 1)" font-size="13.5" text-anchor="middle">-</text>
<text transform="translate(444.10 543.85) scale(0.965 1)" font-size="13.5" text-anchor="middle">-</text>
<text transform="translate(514.00 543.85) scale(0.965 1)" font-size="13.5" text-anchor="end">9.6</text>
<text transform="translate(566.75 543.85) scale(0.965 1)" font-size="13.5" text-anchor="middle">1.3</text>
<text transform="translate(621.85 543.85) scale(0.965 1)" font-size="13.5" text-anchor="middle">4.00</text>
<text transform="translate(668.55 543.85) scale(0.965 1)" font-size="13.5" text-anchor="middle">12.0</text>
<text transform="translate(735.00 543.85) scale(0.965 1)" font-size="13.5" text-anchor="middle">10.30/2341</text>
<text transform="translate(836.40 543.85) scale(0.965 1)" font-size="13.5" text-anchor="end">12.1</text>
<text transform="translate(48.75 566.16) scale(0.965 1)" font-size="13.5" text-anchor="middle">415F5</text>
<text transform="translate(109.88 566.16) scale(0.965 1)" font-size="13.5" text-anchor="middle">12.7</text>
<text transform="translate(165.88 566.16) scale(0.965 1)" font-size="13.5" text-anchor="middle">7.77</text>
<text transform="translate(236.55 566.16) scale(0.965 1)" font-size="13.5" text-anchor="middle">4.68</text>
<text transform="translate(303.30 566.16) scale(0.965 1)" font-size="13.5" text-anchor="middle">3.63</text>
<text transform="translate(357.20 566.16) scale(0.965 1)" font-size="13.5" text-anchor="middle">11.8</text>
<text transform="translate(397.70 566.16) scale(0.965 1)" font-size="13.5" text-anchor="middle">13.0</text>
<text transform="translate(444.10 566.16) scale(0.965 1)" font-size="13.5" text-anchor="middle">14.00</text>
<text transform="translate(514.00 566.16) scale(0.965 1)" font-size="13.5" text-anchor="end">9.6</text>
<text transform="translate(566.75 566.16) scale(0.965 1)" font-size="13.5" text-anchor="middle">1.3</text>
<text transform="translate(621.85 566.16) scale(0.965 1)" font-size="13.5" text-anchor="middle">4.00</text>
<text transform="translate(668.55 566.16) scale(0.965 1)" font-size="13.5" text-anchor="middle">12.0</text>
<text transform="translate(735.00 566.16) scale(0.965 1)" font-size="13.5" text-anchor="middle">10.30/2341</text>
<text transform="translate(836.40 566.16) scale(0.965 1)" font-size="13.5" text-anchor="end">12.1</text>
<text transform="translate(48.75 588.48) scale(0.965 1)" font-size="13.5" text-anchor="middle">415S</text>
<text transform="translate(109.88 588.48) scale(0.965 1)" font-size="13.5" text-anchor="middle">12.7</text>
<text transform="translate(165.88 588.48) scale(0.965 1)" font-size="13.5" text-anchor="middle">7.77</text>
<text transform="translate(236.55 588.48) scale(0.965 1)" font-size="13.5" text-anchor="middle">4.80</text>
<text transform="translate(303.30 588.48) scale(0.965 1)" font-size="13.5" text-anchor="middle">3.96</text>
<text transform="translate(357.20 588.48) scale(0.965 1)" font-size="13.5" text-anchor="middle">12.8</text>
<text transform="translate(397.70 588.48) scale(0.965 1)" font-size="13.5" text-anchor="middle">14.3</text>
<text transform="translate(444.10 588.48) scale(0.965 1)" font-size="13.5" text-anchor="middle">15.70</text>
<text transform="translate(514.00 588.48) scale(0.965 1)" font-size="13.5" text-anchor="end">12.0</text>
<text transform="translate(566.75 588.48) scale(0.965 1)" font-size="13.5" text-anchor="middle">1.5</text>
<text transform="translate(621.85 588.48) scale(0.965 1)" font-size="13.5" text-anchor="middle">4.02</text>
<text transform="translate(668.55 588.48) scale(0.965 1)" font-size="13.5" text-anchor="middle">12.0</text>
<text transform="translate(735.00 588.48) scale(0.965 1)" font-size="13.5" text-anchor="middle">15.69/3566</text>
<text transform="translate(836.40 588.48) scale(0.965 1)" font-size="13.5" text-anchor="end">16.3</text>
<text transform="translate(48.75 610.79) scale(0.965 1)" font-size="13.5" text-anchor="middle">415S<tspan dx="1.6">-</tspan><tspan dx="1.6">A</tspan></text>
<text transform="translate(109.88 610.79) scale(0.965 1)" font-size="13.5" text-anchor="middle">12.7</text>
<text transform="translate(165.88 610.79) scale(0.965 1)" font-size="13.5" text-anchor="middle">7.77</text>
<text transform="translate(236.55 610.79) scale(0.965 1)" font-size="13.5" text-anchor="middle">4.90</text>
<text transform="translate(303.30 610.79) scale(0.965 1)" font-size="13.5" text-anchor="middle">3.96</text>
<text transform="translate(357.20 610.79) scale(0.965 1)" font-size="13.5" text-anchor="middle">12.8</text>
<text transform="translate(397.70 610.79) scale(0.965 1)" font-size="13.5" text-anchor="middle">14.3</text>
<text transform="translate(444.10 610.79) scale(0.965 1)" font-size="13.5" text-anchor="middle">15.70</text>
<text transform="translate(514.00 610.79) scale(0.965 1)" font-size="13.5" text-anchor="end">12.0</text>
<text transform="translate(566.75 610.79) scale(0.965 1)" font-size="13.5" text-anchor="middle">1.5</text>
<text transform="translate(621.85 610.79) scale(0.965 1)" font-size="13.5" text-anchor="middle">4.02</text>
<text transform="translate(668.55 610.79) scale(0.965 1)" font-size="13.5" text-anchor="middle">12.0</text>
<text transform="translate(735.00 610.79) scale(0.965 1)" font-size="13.5" text-anchor="middle">13.80/3136</text>
<text transform="translate(836.40 610.79) scale(0.965 1)" font-size="13.5" text-anchor="end">16.3</text>
<text transform="translate(48.75 633.11) scale(0.965 1)" font-size="13.5" text-anchor="middle">415SF1</text>
<text transform="translate(109.88 633.11) scale(0.965 1)" font-size="13.5" text-anchor="middle">12.7</text>
<text transform="translate(165.88 633.11) scale(0.965 1)" font-size="13.5" text-anchor="middle">7.77</text>
<text transform="translate(236.55 633.11) scale(0.965 1)" font-size="13.5" text-anchor="middle">4.80</text>
<text transform="translate(303.30 633.11) scale(0.965 1)" font-size="13.5" text-anchor="middle">3.96</text>
<text transform="translate(357.20 633.11) scale(0.965 1)" font-size="13.5" text-anchor="middle">13.0</text>
<text transform="translate(397.70 633.11) scale(0.965 1)" font-size="13.5" text-anchor="middle">14.5</text>
<text transform="translate(444.10 633.11) scale(0.965 1)" font-size="13.5" text-anchor="middle">-</text>
<text transform="translate(514.00 633.11) scale(0.965 1)" font-size="13.5" text-anchor="end">10.4</text>
<text transform="translate(566.75 633.11) scale(0.965 1)" font-size="13.5" text-anchor="middle">1.5</text>
<text transform="translate(621.85 633.11) scale(0.965 1)" font-size="13.5" text-anchor="middle">4.50</text>
<text transform="translate(668.55 633.11) scale(0.965 1)" font-size="13.5" text-anchor="middle">12.0</text>
<text transform="translate(735.00 633.11) scale(0.965 1)" font-size="13.5" text-anchor="middle">13.93/3166</text>
<text transform="translate(836.40 633.11) scale(0.965 1)" font-size="13.5" text-anchor="end">16.3</text>
<text transform="translate(48.75 655.42) scale(0.965 1)" font-size="13.5" text-anchor="middle">415SF4</text>
<text transform="translate(109.88 655.42) scale(0.965 1)" font-size="13.5" text-anchor="middle">12.7</text>
<text transform="translate(165.88 655.42) scale(0.965 1)" font-size="13.5" text-anchor="middle">7.77</text>
<text transform="translate(236.55 655.42) scale(0.965 1)" font-size="13.5" text-anchor="middle">4.80</text>
<text transform="translate(303.30 655.42) scale(0.965 1)" font-size="13.5" text-anchor="middle">3.96</text>
<text transform="translate(357.20 655.42) scale(0.965 1)" font-size="13.5" text-anchor="middle">13.0</text>
<text transform="translate(397.70 655.42) scale(0.965 1)" font-size="13.5" text-anchor="middle">14.5</text>
<text transform="translate(444.10 655.42) scale(0.965 1)" font-size="13.5" text-anchor="middle">15.70</text>
<text transform="translate(514.00 655.42) scale(0.965 1)" font-size="13.5" text-anchor="end">12.0</text>
<text transform="translate(566.75 655.42) scale(0.965 1)" font-size="13.5" text-anchor="middle">1.5</text>
<text transform="translate(621.85 655.42) scale(0.965 1)" font-size="13.5" text-anchor="middle">4.00</text>
<text transform="translate(668.55 655.42) scale(0.965 1)" font-size="13.5" text-anchor="middle">12.0</text>
<text transform="translate(735.00 655.42) scale(0.965 1)" font-size="13.5" text-anchor="middle">13.80/3136</text>
<text transform="translate(836.40 655.42) scale(0.965 1)" font-size="13.5" text-anchor="end">16.3</text>
<text transform="translate(48.75 677.74) scale(0.965 1)" font-size="13.5" text-anchor="middle">415SF6</text>
<text transform="translate(109.88 677.74) scale(0.965 1)" font-size="13.5" text-anchor="middle">12.7</text>
<text transform="translate(165.88 677.74) scale(0.965 1)" font-size="13.5" text-anchor="middle">7.77</text>
<text transform="translate(236.55 677.74) scale(0.965 1)" font-size="13.5" text-anchor="middle">4.80</text>
<text transform="translate(303.30 677.74) scale(0.965 1)" font-size="13.5" text-anchor="middle">3.96</text>
<text transform="translate(357.20 677.74) scale(0.965 1)" font-size="13.5" text-anchor="middle">13.0</text>
<text transform="translate(397.70 677.74) scale(0.965 1)" font-size="13.5" text-anchor="middle">14.5</text>
<text transform="translate(444.10 677.74) scale(0.965 1)" font-size="13.5" text-anchor="middle">15.70</text>
<text transform="translate(514.00 677.74) scale(0.965 1)" font-size="13.5" text-anchor="end">10.4</text>
<text transform="translate(566.75 677.74) scale(0.965 1)" font-size="13.5" text-anchor="middle">1.5</text>
<text transform="translate(621.85 677.74) scale(0.965 1)" font-size="13.5" text-anchor="middle">4.00</text>
<text transform="translate(668.55 677.74) scale(0.965 1)" font-size="13.5" text-anchor="middle">12.0</text>
<text transform="translate(735.00 677.74) scale(0.965 1)" font-size="13.5" text-anchor="middle">13.93/3166</text>
<text transform="translate(836.40 677.74) scale(0.965 1)" font-size="13.5" text-anchor="end">16.3</text>
<text transform="translate(48.75 700.05) scale(0.965 1)" font-size="13.5" text-anchor="middle">415SF7</text>
<text transform="translate(109.88 700.05) scale(0.965 1)" font-size="13.5" text-anchor="middle">12.7</text>
<text transform="translate(165.88 700.05) scale(0.965 1)" font-size="13.5" text-anchor="middle">7.77</text>
<text transform="translate(236.55 700.05) scale(0.965 1)" font-size="13.5" text-anchor="middle">4.80</text>
<text transform="translate(303.30 700.05) scale(0.965 1)" font-size="13.5" text-anchor="middle">4.00</text>
<text transform="translate(357.20 700.05) scale(0.965 1)" font-size="13.5" text-anchor="middle">13.0</text>
<text transform="translate(397.70 700.05) scale(0.965 1)" font-size="13.5" text-anchor="middle">14.5</text>
<text transform="translate(444.10 700.05) scale(0.965 1)" font-size="13.5" text-anchor="middle">15.70</text>
<text transform="translate(514.00 700.05) scale(0.965 1)" font-size="13.5" text-anchor="end">12.0</text>
<text transform="translate(566.75 700.05) scale(0.965 1)" font-size="13.5" text-anchor="middle">1.5</text>
<text transform="translate(621.85 700.05) scale(0.965 1)" font-size="13.5" text-anchor="middle">4.50</text>
<text transform="translate(668.55 700.05) scale(0.965 1)" font-size="13.5" text-anchor="middle">12.0</text>
<text transform="translate(735.00 700.05) scale(0.965 1)" font-size="13.5" text-anchor="middle">15.69/3566</text>
<text transform="translate(836.40 700.05) scale(0.965 1)" font-size="13.5" text-anchor="end">16.3</text>
<text transform="translate(48.75 722.37) scale(0.965 1)" font-size="13.5" text-anchor="middle">415SF10</text>
<text transform="translate(109.88 722.37) scale(0.965 1)" font-size="13.5" text-anchor="middle">12.7</text>
<text transform="translate(165.88 722.37) scale(0.965 1)" font-size="13.5" text-anchor="middle">7.77</text>
<text transform="translate(236.55 722.37) scale(0.965 1)" font-size="13.5" text-anchor="middle">4.80</text>
<text transform="translate(303.30 722.37) scale(0.965 1)" font-size="13.5" text-anchor="middle">4.00</text>
<text transform="translate(357.20 722.37) scale(0.965 1)" font-size="13.5" text-anchor="middle">13.0</text>
<text transform="translate(397.70 722.37) scale(0.965 1)" font-size="13.5" text-anchor="middle">14.5</text>
<text transform="translate(444.10 722.37) scale(0.965 1)" font-size="13.5" text-anchor="middle">-</text>
<text transform="translate(514.00 722.37) scale(0.965 1)" font-size="13.5" text-anchor="end">12.0</text>
<text transform="translate(566.75 722.37) scale(0.965 1)" font-size="13.5" text-anchor="middle">1.5</text>
<text transform="translate(621.85 722.37) scale(0.965 1)" font-size="13.5" text-anchor="middle">4.50</text>
<text transform="translate(668.55 722.37) scale(0.965 1)" font-size="13.5" text-anchor="middle">12.0</text>
<text transform="translate(735.00 722.37) scale(0.965 1)" font-size="13.5" text-anchor="middle">13.93/3166</text>
<text transform="translate(836.40 722.37) scale(0.965 1)" font-size="13.5" text-anchor="end">16.3</text>
<text transform="translate(48.75 744.68) scale(0.965 1)" font-size="13.5" text-anchor="middle">415SF16</text>
<text transform="translate(109.88 744.68) scale(0.965 1)" font-size="13.5" text-anchor="middle">12.7</text>
<text transform="translate(165.88 744.68) scale(0.965 1)" font-size="13.5" text-anchor="middle">7.77</text>
<text transform="translate(236.55 744.68) scale(0.965 1)" font-size="13.5" text-anchor="middle">4.80</text>
<text transform="translate(303.30 744.68) scale(0.965 1)" font-size="13.5" text-anchor="middle">3.60</text>
<text transform="translate(357.20 744.68) scale(0.965 1)" font-size="13.5" text-anchor="middle">11.0</text>
<text transform="translate(397.70 744.68) scale(0.965 1)" font-size="13.5" text-anchor="middle">12.1</text>
<text transform="translate(444.10 744.68) scale(0.965 1)" font-size="13.5" text-anchor="middle">13.00</text>
<text transform="translate(514.00 744.68) scale(0.965 1)" font-size="13.5" text-anchor="end">12.0</text>
<text transform="translate(566.75 744.68) scale(0.965 1)" font-size="13.5" text-anchor="middle">1.1</text>
<text transform="translate(621.85 744.68) scale(0.965 1)" font-size="13.5" text-anchor="middle">4.00</text>
<text transform="translate(668.55 744.68) scale(0.965 1)" font-size="13.5" text-anchor="middle">12.0</text>
<text transform="translate(735.00 744.68) scale(0.965 1)" font-size="13.5" text-anchor="middle">6.86/1559</text>
<text transform="translate(836.40 744.68) scale(0.965 1)" font-size="13.5" text-anchor="end">8.1</text>
<text transform="translate(48.75 767.00) scale(0.965 1)" font-size="13.5" text-anchor="middle">420JF1</text>
<text transform="translate(109.88 767.00) scale(0.965 1)" font-size="13.5" text-anchor="middle">12.7</text>
<text transform="translate(165.88 767.00) scale(0.965 1)" font-size="13.5" text-anchor="middle">7.77</text>
<text transform="translate(236.55 767.00) scale(0.965 1)" font-size="13.5" text-anchor="middle">6.25</text>
<text transform="translate(303.30 767.00) scale(0.965 1)" font-size="13.5" text-anchor="middle">3.96</text>
<text transform="translate(357.20 767.00) scale(0.965 1)" font-size="13.5" text-anchor="middle">14.7</text>
<text transform="translate(397.70 767.00) scale(0.965 1)" font-size="13.5" text-anchor="middle">16.1</text>
<text transform="translate(444.10 767.00) scale(0.965 1)" font-size="13.5" text-anchor="middle">18.50</text>
<text transform="translate(514.00 767.00) scale(0.965 1)" font-size="13.5" text-anchor="end">12.0</text>
<text transform="translate(566.75 767.00) scale(0.965 1)" font-size="13.5" text-anchor="middle">1.5</text>
<text transform="translate(621.85 767.00) scale(0.965 1)" font-size="13.5" text-anchor="middle">4.00</text>
<text transform="translate(668.55 767.00) scale(0.965 1)" font-size="13.5" text-anchor="middle">12.0</text>
<text transform="translate(735.00 767.00) scale(0.965 1)" font-size="13.5" text-anchor="middle">16.00/3636</text>
<text transform="translate(836.40 767.00) scale(0.965 1)" font-size="13.5" text-anchor="end">18.8</text>
<text transform="translate(45.70 397.70) scale(0.965 1)" font-size="13.5" text-anchor="middle">Chain No.</text>
<text transform="translate(109.88 346.00) scale(1.065 1)" font-size="12.4" text-anchor="middle" class="cjk">节距</text>
<text transform="translate(166.18 346.00) scale(1.065 1)" font-size="12.4" text-anchor="middle" class="cjk">滚子直径</text>
<text transform="translate(236.45 346.00) scale(1.065 1)" font-size="12.4" text-anchor="middle" class="cjk">内节内宽</text>
<text transform="translate(303.20 346.00) scale(1.065 1)" font-size="12.4" text-anchor="middle" class="cjk">销轴直径</text>
<text transform="translate(501.55 346.00) scale(1.065 1)" font-size="12.4" text-anchor="middle" class="cjk">内链板高度</text>
<text transform="translate(566.75 346.00) scale(1.065 1)" font-size="12.4" text-anchor="middle" class="cjk">链板厚度</text>
<text transform="translate(735.20 346.00) scale(1.065 1)" font-size="12.4" text-anchor="middle" class="cjk">抗拉强度</text>
<text transform="translate(823.55 346.00) scale(1.065 1)" font-size="12.4" text-anchor="middle" class="cjk">平均抗拉强度</text>
<text transform="translate(399.50 346.00) scale(1.065 1)" font-size="12.4" text-anchor="middle" class="cjk">销轴长度</text>
<text transform="translate(646.10 346.00) scale(1.065 1)" font-size="12.4" text-anchor="middle" class="cjk">附板尺寸</text>
<text transform="translate(109.88 377.00) scale(0.965 1)" font-size="13.5" text-anchor="middle">Pitch</text>
<text transform="translate(166.18 363.80) scale(0.965 1)" font-size="13.5" text-anchor="middle">Roller</text>
<text transform="translate(166.18 377.00) scale(0.965 1)" font-size="13.5" text-anchor="middle">diameter</text>
<text transform="translate(236.45 363.80) scale(0.965 1)" font-size="13.5" text-anchor="middle">Width</text>
<text transform="translate(236.45 377.00) scale(0.965 1)" font-size="13.5" text-anchor="middle">between</text>
<text transform="translate(236.45 390.40) scale(0.965 1)" font-size="13.5" text-anchor="middle">inner plates</text>
<text transform="translate(303.20 363.80) scale(0.965 1)" font-size="13.5" text-anchor="middle">Pin</text>
<text transform="translate(303.20 377.00) scale(0.965 1)" font-size="13.5" text-anchor="middle">diameter</text>
<text transform="translate(501.55 363.80) scale(0.965 1)" font-size="13.5" text-anchor="middle">Inner</text>
<text transform="translate(501.55 377.00) scale(0.965 1)" font-size="13.5" text-anchor="middle">plate</text>
<text transform="translate(501.55 390.40) scale(0.965 1)" font-size="13.5" text-anchor="middle">depth</text>
<text transform="translate(566.75 363.80) scale(0.965 1)" font-size="13.5" text-anchor="middle">Plate</text>
<text transform="translate(566.75 377.00) scale(0.965 1)" font-size="13.5" text-anchor="middle">thickness</text>
<text transform="translate(735.20 363.80) scale(0.965 1)" font-size="13.5" text-anchor="middle">Tensile</text>
<text transform="translate(735.20 377.00) scale(0.965 1)" font-size="13.5" text-anchor="middle">strength</text>
<text transform="translate(823.55 363.80) scale(0.965 1)" font-size="13.5" text-anchor="middle">Average</text>
<text transform="translate(823.55 377.00) scale(0.965 1)" font-size="13.5" text-anchor="middle">tensile</text>
<text transform="translate(823.55 390.40) scale(0.965 1)" font-size="13.5" text-anchor="middle">strength</text>
<text transform="translate(399.50 363.80) scale(0.965 1)" font-size="13.5" text-anchor="middle">Pin</text>
<text transform="translate(399.50 377.00) scale(0.965 1)" font-size="13.5" text-anchor="middle">length</text>
<text transform="translate(646.10 363.80) scale(0.965 1)" font-size="13.5" text-anchor="middle">Attachment</text>
<text transform="translate(646.10 377.00) scale(0.965 1)" font-size="13.5" text-anchor="middle">dimension</text>
<text transform="translate(109.88 424.60) scale(0.965 1)" font-size="13.5" text-anchor="middle">P</text>
<text transform="translate(166.18 417.20) scale(0.965 1)" font-size="13.5" text-anchor="middle">d<tspan font-size="10">1</tspan></text>
<text transform="translate(166.18 431.70) scale(0.965 1)" font-size="13.5" text-anchor="middle">max</text>
<text transform="translate(236.45 417.20) scale(0.965 1)" font-size="13.5" text-anchor="middle">b<tspan font-size="10">1</tspan></text>
<text transform="translate(236.45 431.70) scale(0.965 1)" font-size="13.5" text-anchor="middle">min</text>
<text transform="translate(303.20 417.20) scale(0.965 1)" font-size="13.5" text-anchor="middle">d<tspan font-size="10">2</tspan></text>
<text transform="translate(303.20 431.70) scale(0.965 1)" font-size="13.5" text-anchor="middle">max</text>
<text transform="translate(357.20 417.20) scale(0.965 1)" font-size="13.5" text-anchor="middle">L</text>
<text transform="translate(357.20 431.70) scale(0.965 1)" font-size="13.5" text-anchor="middle">max</text>
<text transform="translate(397.70 417.20) scale(0.965 1)" font-size="13.5" text-anchor="middle">L<tspan font-size="11.5">c</tspan></text>
<text transform="translate(397.70 431.70) scale(0.965 1)" font-size="13.5" text-anchor="middle">max</text>
<text transform="translate(442.80 417.20) scale(0.965 1)" font-size="13.5" text-anchor="middle">L<tspan font-size="11.5">d</tspan></text>
<text transform="translate(442.80 431.70) scale(0.965 1)" font-size="13.5" text-anchor="middle">max</text>
<text transform="translate(501.55 417.20) scale(0.965 1)" font-size="13.5" text-anchor="middle">h<tspan font-size="10">2</tspan></text>
<text transform="translate(501.55 431.70) scale(0.965 1)" font-size="13.5" text-anchor="middle">max</text>
<text transform="translate(566.75 415.00) scale(0.965 1)" font-size="13.5" text-anchor="middle">T</text>
<text transform="translate(566.75 430.50) scale(0.965 1)" font-size="13.5" text-anchor="middle">max</text>
<text transform="translate(621.55 417.20) scale(0.965 1)" font-size="13.5" text-anchor="middle">d<tspan font-size="10">3</tspan></text>
<text transform="translate(621.55 431.70) scale(0.965 1)" font-size="13.5" text-anchor="middle">nom</text>
<text transform="translate(668.55 424.60) scale(0.965 1)" font-size="13.5" text-anchor="middle">C</text>
<text transform="translate(735.20 417.20) scale(0.965 1)" font-size="13.5" text-anchor="middle">Q</text>
<text transform="translate(735.20 431.70) scale(0.965 1)" font-size="13.5" text-anchor="middle">min</text>
<text transform="translate(823.55 424.60) scale(0.965 1)" font-size="13.5" text-anchor="middle">Q<tspan font-size="10">0</tspan></text>
<text transform="translate(109.88 453.60) scale(0.965 1)" font-size="13.5" text-anchor="middle">mm</text>
<text transform="translate(166.18 453.60) scale(0.965 1)" font-size="13.5" text-anchor="middle">mm</text>
<text transform="translate(236.45 453.60) scale(0.965 1)" font-size="13.5" text-anchor="middle">mm</text>
<text transform="translate(303.20 453.60) scale(0.965 1)" font-size="13.5" text-anchor="middle">mm</text>
<text transform="translate(357.20 453.60) scale(0.965 1)" font-size="13.5" text-anchor="middle">mm</text>
<text transform="translate(397.70 453.60) scale(0.965 1)" font-size="13.5" text-anchor="middle">mm</text>
<text transform="translate(442.80 453.60) scale(0.965 1)" font-size="13.5" text-anchor="middle">mm</text>
<text transform="translate(501.55 453.60) scale(0.965 1)" font-size="13.5" text-anchor="middle">mm</text>
<text transform="translate(566.75 453.60) scale(0.965 1)" font-size="13.5" text-anchor="middle">mm</text>
<text transform="translate(621.55 453.60) scale(0.965 1)" font-size="13.5" text-anchor="middle">mm</text>
<text transform="translate(668.55 453.60) scale(0.965 1)" font-size="13.5" text-anchor="middle">mm</text>
<text transform="translate(735.20 453.60) scale(0.965 1)" font-size="13.5" text-anchor="middle">kN/lbf</text>
<text transform="translate(823.55 453.60) scale(0.965 1)" font-size="13.5" text-anchor="middle">kN</text>
</g>
</svg>
</body></html>
